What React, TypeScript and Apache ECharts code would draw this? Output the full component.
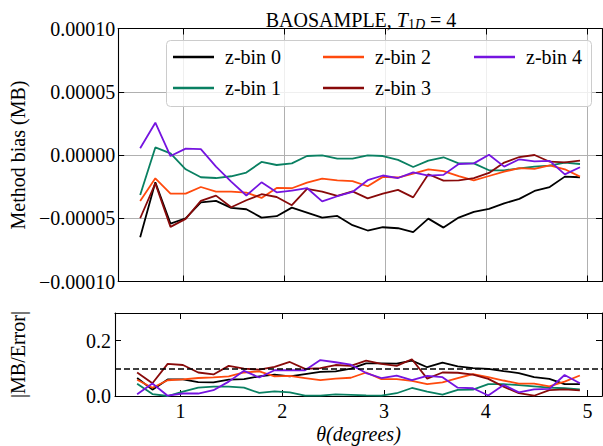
import React, { useEffect, useRef } from "react";
import * as echarts from "echarts";

const theta = [
  0.575, 0.725, 0.875, 1.025, 1.175, 1.325, 1.475, 1.625, 1.775, 1.925,
  2.075, 2.225, 2.375, 2.525, 2.675, 2.825, 2.975, 3.125, 3.275, 3.425,
  3.575, 3.725, 3.875, 4.025, 4.175, 4.325, 4.475, 4.625, 4.775, 4.925,
];

const seriesNames = ["z-bin 0", "z-bin 1", "z-bin 2", "z-bin 3", "z-bin 4"];

const biasBin0 = [
  -6.5e-5, -2.16e-5, -5.42e-5, -5.0e-5, -3.74e-5, -3.63e-5, -4.18e-5, -4.29e-5, -4.95e-5, -4.84e-5,
  -4.16e-5, -4.55e-5, -4.95e-5, -4.82e-5, -5.55e-5, -5.97e-5, -5.71e-5, -5.79e-5, -6.1e-5, -5.03e-5,
  -5.74e-5, -4.95e-5, -4.5e-5, -4.26e-5, -3.82e-5, -3.47e-5, -2.84e-5, -2.53e-5, -1.71e-5, -1.76e-5,
];
const biasBin1 = [
  -3.16e-5, 0.6e-5, 0.13e-5, -1.13e-5, -1.76e-5, -1.82e-5, -1.68e-5, -1.39e-5, -0.55e-5, -0.79e-5,
  -0.66e-5, -0.08e-5, -0.03e-5, -0.29e-5, -0.29e-5, -0.03e-5, -0.08e-5, -0.39e-5, -0.95e-5, -0.45e-5,
  -0.18e-5, -0.66e-5, -0.66e-5, -1.21e-5, -1.21e-5, -1.05e-5, -0.92e-5, -0.84e-5, -0.6e-5, -0.71e-5,
];
const biasBin2 = [
  -3.63e-5, -1.84e-5, -3.05e-5, -3.05e-5, -2.53e-5, -2.89e-5, -2.89e-5, -2.97e-5, -3.39e-5, -2.6e-5,
  -2.63e-5, -2.18e-5, -1.87e-5, -2.0e-5, -2.06e-5, -2.47e-5, -1.73e-5, -1.78e-5, -1.48e-5, -1.14e-5,
  -1.27e-5, -1.67e-5, -2.0e-5, -1.66e-5, -1.32e-5, -1.03e-5, -1.1e-5, -0.82e-5, -1.13e-5, -1.71e-5,
];
const biasBin3 = [
  -5.0e-5, -2.24e-5, -5.68e-5, -5.05e-5, -3.63e-5, -3.21e-5, -4.13e-5, -3.58e-5, -3.1e-5, -3.32e-5,
  -3.97e-5, -2.68e-5, -2.89e-5, -3.24e-5, -2.88e-5, -3.43e-5, -3.06e-5, -2.76e-5, -3.35e-5, -1.52e-5,
  -2.03e-5, -2.0e-5, -1.82e-5, -1.42e-5, -0.6e-5, -0.16e-5, 0.0, -0.53e-5, -0.58e-5, -0.45e-5,
];
const biasBin4 = [
  0.53e-5, 2.55e-5, -0.08e-5, 0.5e-5, 0.47e-5, -0.92e-5, -2.1e-5, -3.2e-5, -2.16e-5, -2.95e-5,
  -2.82e-5, -2.61e-5, -3.67e-5, -3.26e-5, -2.92e-5, -1.99e-5, -1.62e-5, -1.82e-5, -1.38e-5, -1.63e-5,
  -1.57e-5, -0.71e-5, -0.66e-5, 0.02e-5, -0.92e-5, -0.34e-5, -0.5e-5, -0.47e-5, -1.53e-5, -0.97e-5,
];

const ratioBin0 = [
  0.065, 0.023, 0.06, 0.06, 0.05, 0.049, 0.059, 0.061, 0.071, 0.077,
  0.071, 0.079, 0.087, 0.089, 0.099, 0.118, 0.118, 0.117, 0.128, 0.104,
  0.121, 0.107, 0.101, 0.098, 0.09, 0.083, 0.068, 0.062, 0.043, 0.043,
];
const ratioBin1 = [
  0.044, 0.007, 0.0, 0.016, 0.03, 0.034, 0.034, 0.03, 0.011, 0.017,
  0.013, 0.001, 0.001, 0.006, 0.004, 0.002, 0.001, 0.01, 0.029, 0.016,
  0.005, 0.022, 0.023, 0.043, 0.043, 0.039, 0.035, 0.03, 0.028, 0.024,
];
const ratioBin2 = [
  0.059, 0.03, 0.057, 0.06, 0.065, 0.067, 0.071, 0.085, 0.089, 0.071,
  0.073, 0.065, 0.057, 0.063, 0.066, 0.085, 0.061, 0.061, 0.055, 0.043,
  0.049, 0.065, 0.079, 0.068, 0.056, 0.045, 0.045, 0.035, 0.052, 0.074,
];
const ratioBin3 = [
  0.085, 0.046, 0.116, 0.112, 0.085, 0.078, 0.109, 0.099, 0.095, 0.105,
  0.123, 0.098, 0.101, 0.112, 0.109, 0.128, 0.116, 0.109, 0.133, 0.063,
  0.085, 0.084, 0.077, 0.062, 0.034, 0.01, 0.001, 0.021, 0.024, 0.02,
];
const ratioBin4 = [
  0.006, 0.045, 0.001, 0.009, 0.009, 0.021, 0.052, 0.091, 0.067, 0.093,
  0.093, 0.093, 0.13, 0.122, 0.113, 0.083, 0.065, 0.074, 0.057, 0.073,
  0.068, 0.03, 0.028, 0.002, 0.04, 0.013, 0.024, 0.026, 0.076, 0.046,
];

const xTicks = [1, 2, 3, 4, 5];
const biasTicks = [-0.0001, -0.00005, 0, 0.00005, 0.0001];
const ratioTicks = [0, 0.2];
const referenceLevel = 0.1;

const biasData = [biasBin0, biasBin1, biasBin2, biasBin3, biasBin4];
const ratioData = [ratioBin0, ratioBin1, ratioBin2, ratioBin3, ratioBin4];

const colors = ["#000000", "#0a8062", "#ff4a0d", "#880a0a", "#7514e0"];
const FONT = "'Liberation Serif', 'DejaVu Serif', serif";

const X_MIN = 0.3575;
const X_MAX = 5.1425;

function fmtBias(v: number) {
  if (Math.abs(v) < 1e-12) return "0.00000";
  return (v < 0 ? "\u2212" : "") + Math.abs(v).toFixed(5);
}

function buildOption() {
  const spine = { show: true, onZero: false, lineStyle: { color: "#000", width: 1.1 } };
  const ticks = (vals: number[]) => ({
    show: true,
    inside: true,
    length: 6,
    lineStyle: { color: "#000", width: 1 },
    customValues: vals,
  });
  const grid = { color: "#b0b0b0", width: 1 };
  const txt = { fontSize: 20, color: "#000", fontFamily: FONT, fontWeight: "normal" };

  const xAxis: any[] = [
    {
      gridIndex: 0, type: "value", min: X_MIN, max: X_MAX, position: "bottom",
      axisLine: spine, axisTick: ticks(xTicks),
      axisLabel: { show: false, customValues: xTicks },
      splitLine: { show: true, lineStyle: grid },
    },
    {
      gridIndex: 0, type: "value", min: X_MIN, max: X_MAX, position: "top",
      axisLine: spine, axisTick: ticks(xTicks),
      axisLabel: { show: false, customValues: xTicks },
      splitLine: { show: false },
    },
    {
      gridIndex: 1, type: "value", min: X_MIN, max: X_MAX, position: "bottom",
      axisLine: spine, axisTick: ticks(xTicks),
      axisLabel: {
        show: true, customValues: xTicks, formatter: (v: number) => String(v),
        ...txt, margin: 5,
      },
      splitLine: { show: false },
      name: "\u03b8(degrees)", nameLocation: "middle", nameGap: 28,
      nameTextStyle: { ...txt, fontStyle: "italic" },
    },
    {
      gridIndex: 1, type: "value", min: X_MIN, max: X_MAX, position: "top",
      axisLine: spine, axisTick: ticks(xTicks),
      axisLabel: { show: false, customValues: xTicks },
      splitLine: { show: false },
    },
  ];

  const yAxis: any[] = [
    {
      gridIndex: 0, type: "value", min: -0.0001, max: 0.0001, position: "left",
      axisLine: spine, axisTick: ticks(biasTicks),
      axisLabel: {
        show: true, customValues: biasTicks, formatter: fmtBias,
        ...txt, margin: 3,
      },
      splitLine: { show: true, lineStyle: grid },
      name: "Method bias (MB)", nameLocation: "middle", nameGap: 87,
      nameTextStyle: txt,
    },
    {
      gridIndex: 0, type: "value", min: -0.0001, max: 0.0001, position: "right",
      axisLine: spine, axisTick: ticks(biasTicks),
      axisLabel: { show: false, customValues: biasTicks },
      splitLine: { show: false },
    },
    {
      gridIndex: 1, type: "value", min: 0, max: 0.3, position: "left",
      axisLine: spine, axisTick: ticks(ratioTicks),
      axisLabel: {
        show: true, customValues: ratioTicks, formatter: (v: number) => v.toFixed(1),
        ...txt, margin: 4,
      },
      splitLine: { show: false },
      name: "|MB/Error|", nameLocation: "middle", nameGap: 87,
      nameTextStyle: txt,
    },
    {
      gridIndex: 1, type: "value", min: 0, max: 0.3, position: "right",
      axisLine: spine, axisTick: ticks(ratioTicks),
      axisLabel: { show: false, customValues: ratioTicks },
      splitLine: { show: false },
    },
  ];

  const series: any[] = [];
  seriesNames.forEach((name, k) => {
    series.push({
      name, type: "line", xAxisIndex: 0, yAxisIndex: 0,
      data: theta.map((t, i) => [t, biasData[k][i]]),
      symbol: "none", lineStyle: { color: colors[k], width: 1.8 },
      itemStyle: { color: colors[k] }, z: 2 + k * 0.01,
    });
  });
  seriesNames.forEach((name, k) => {
    const s: any = {
      name, type: "line", xAxisIndex: 2, yAxisIndex: 2,
      data: theta.map((t, i) => [t, ratioData[k][i]]),
      symbol: "none", lineStyle: { color: colors[k], width: 1.8 },
      itemStyle: { color: colors[k] }, z: 2 + k * 0.01,
    };
    if (k === 0) {
      s.markLine = {
        silent: true, symbol: ["none", "none"], label: { show: false },
        lineStyle: { color: "#000", type: [6, 3], width: 1.5 },
        data: [{ yAxis: referenceLevel }],
      };
    }
    series.push(s);
  });

  const legendCommon = {
    orient: "vertical", padding: 0, itemWidth: 41, itemHeight: 2.5, itemGap: 11,
    icon: "rect", selectedMode: false, z: 6,
    textStyle: { ...txt, padding: [0, 0, 0, 6] },
  };

  return {
    animation: false,
    backgroundColor: "#ffffff",
    textStyle: { fontFamily: FONT },
    title: {
      text: "{n|BAOSAMPLE, }{i|T}{s|1}{si|D}{n| = 4}",
      left: 356, top: 3, textAlign: "center",
      textStyle: {
        fontWeight: "normal",
        rich: {
          n: { ...txt },
          i: { ...txt, fontStyle: "italic" },
          s: { ...txt, fontSize: 14, padding: [9, 0, 0, 0] },
          si: { ...txt, fontSize: 14, fontStyle: "italic", padding: [9, 0, 0, 0] },
        },
      },
    },
    grid: [
      { left: 114, top: 28.5, width: 488, height: 253 },
      { left: 114, top: 313, width: 488, height: 83 },
    ],
    xAxis, yAxis, series,
    legend: [
      { ...legendCommon, data: ["z-bin 0", "z-bin 1"], left: 173, top: 47 },
      { ...legendCommon, data: ["z-bin 2", "z-bin 3"], left: 323, top: 47 },
      { ...legendCommon, data: ["z-bin 4"], left: 474, top: 47 },
    ],
    graphic: [
      {
        type: "rect", z: 5,
        shape: { x: 166.5, y: 40.5, width: 425, height: 66, r: 4 },
        style: { fill: "rgba(255,255,255,0.8)", stroke: "#cccccc", lineWidth: 1 },
      },
    ],
  };
}

export default function App() {
  const ref = useRef<HTMLDivElement>(null);
  useEffect(() => {
    if (!ref.current) return;
    const chart = echarts.init(ref.current, null, { renderer: "svg" });
    chart.setOption(buildOption() as any);
    return () => chart.dispose();
  }, []);
  return (
    <div
      ref={ref}
      style={{ position: "fixed", left: 0, top: 0, width: 603, height: 446, background: "#fff" }}
    />
  );
}
